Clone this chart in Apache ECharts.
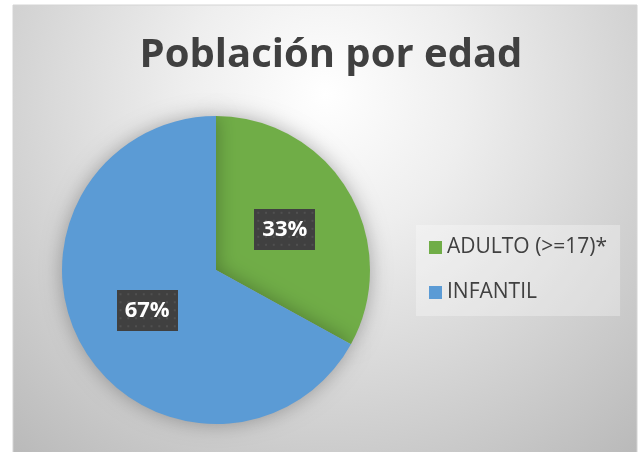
<!DOCTYPE html>
<html>
<head>
<meta charset="utf-8">
<script src="https://cdn.jsdelivr.net/npm/echarts@6/dist/echarts.min.js"></script>
<style>
  html, body { margin: 0; padding: 0; background: #ffffff; }
  #chart { width: 640px; height: 452px; }
</style>
</head>
<body>
<div id="chart"></div>
<script>
// chart data
var categories = ['ADULTO (>=17)*', 'INFANTIL'];
var values = [33, 67];
var colors = ['#70AD47', '#5B9BD5'];

// dotted dark box behind the percent labels
function labelPattern(w, h) {
  var c = document.createElement('canvas');
  c.width = w;
  c.height = h;
  var ctx = c.getContext('2d');
  ctx.fillStyle = '#404040';
  ctx.fillRect(0, 0, w, h);
  ctx.fillStyle = '#505050';
  for (var y = 3; y < h; y += 8) {
    for (var x = 3; x < w; x += 8) {
      ctx.fillRect(x, y, 2, 2);
    }
  }
  return c;
}

var myChart = echarts.init(document.getElementById('chart'));

var pieData = categories.map(function (name, i) {
  return { name: name, value: values[i], itemStyle: { color: colors[i] } };
});

var option = {
  animation: false,
  graphic: [{
    type: 'rect',
    z: -10,
    shape: { x: 13, y: 5, width: 624, height: 448 },
    style: {
      fill: {
        type: 'radial', x: 0.5, y: 0.2, r: 1.05,
        colorStops: [
          { offset: 0, color: '#ffffff' },
          { offset: 0.3, color: '#eeeeee' },
          { offset: 1, color: '#bababa' }
        ]
      },
      stroke: '#d4d4d4',
      lineWidth: 1
    }
  }],
  title: {
    text: 'Población por edad',
    left: 326,
    textAlign: 'center',
    top: 31,
    textStyle: {
      fontFamily: 'Open Sans',
      fontWeight: 'bold',
      fontSize: 40,
      color: '#404040'
    }
  },
  legend: {
    orient: 'vertical',
    left: 416,
    top: 225,
    padding: [12, 13, 13, 13],
    backgroundColor: 'rgba(255,255,255,0.3)',
    icon: 'rect',
    itemWidth: 13,
    itemHeight: 13,
    itemGap: 24,
    textStyle: {
      fontFamily: 'Open Sans',
      fontSize: 21,
      lineHeight: 21,
      color: '#404040'
    },
    data: categories
  },
  series: [{
    type: 'pie',
    center: [216, 270],
    radius: 154,
    startAngle: 90,
    clockwise: true,
    itemStyle: {
      shadowBlur: 20,
      shadowColor: 'rgba(0,0,0,0.3)'
    },
    label: {
      position: 'inside',
      formatter: '{d}%',
      fontFamily: 'Open Sans',
      fontWeight: 'bold',
      fontSize: 22,
      lineHeight: 25,
      color: '#ffffff',
      backgroundColor: { image: labelPattern(63, 41) },
      padding: [8, 8, 8, 8],
      shadowBlur: 5,
      shadowOffsetX: 3,
      shadowOffsetY: 4,
      shadowColor: 'rgba(0,0,0,0.45)'
    },
    labelLine: { show: false },
    emphasis: { disabled: true },
    data: pieData
  }]
};

myChart.setOption(option);
</script>
</body>
</html>
